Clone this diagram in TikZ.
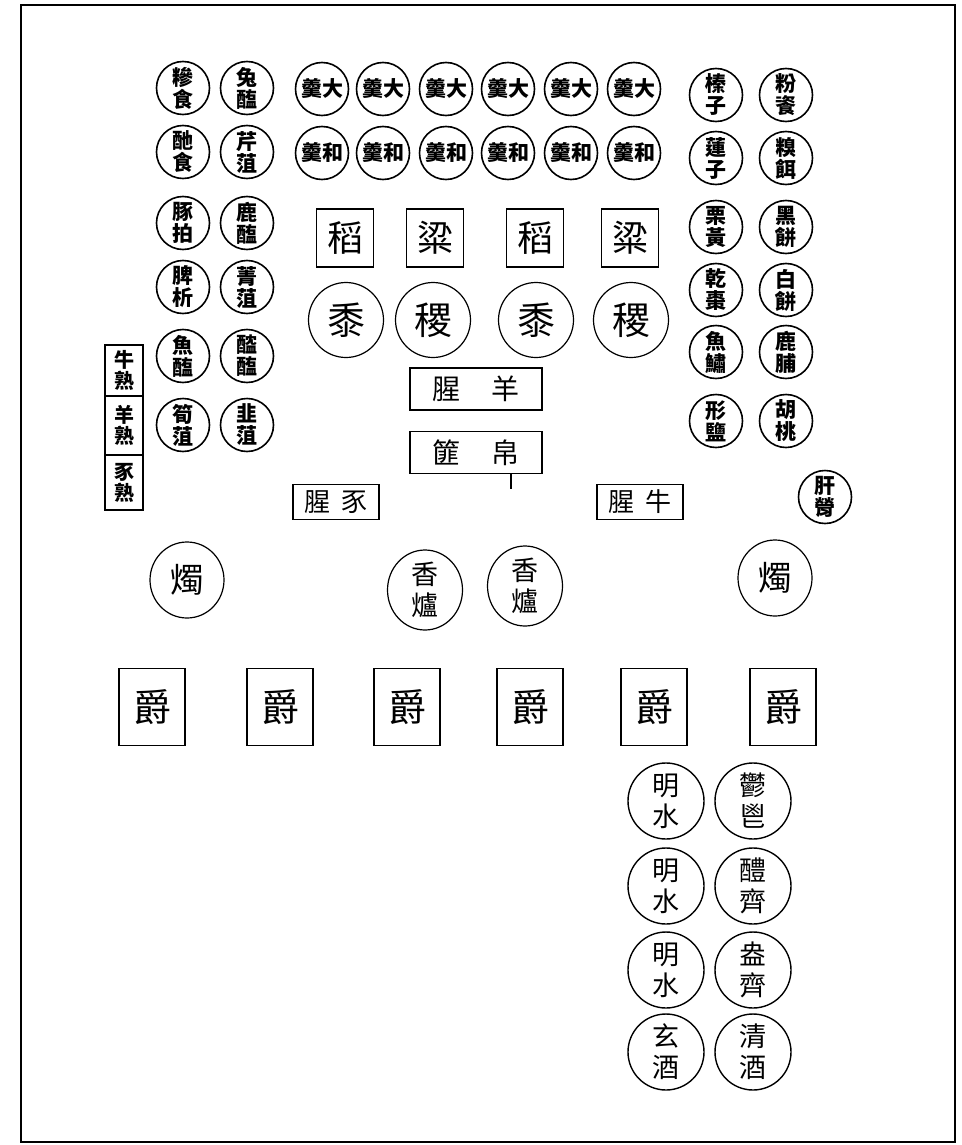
\documentclass[tikz,border=0pt]{standalone}
\usepackage{fontspec}
\newfontfamily\cjk{Noto Sans CJK TC}
\usetikzlibrary{shapes.geometric}
\begin{document}
\begin{tikzpicture}[x=1pt,y=-1pt,
  smallc/.style={circle,draw,line width=1.6pt,minimum size=53pt,inner sep=0pt,align=center,font=\cjk\bfseries\fontsize{21}{22}\selectfont},
  gengc/.style={circle,draw,line width=1.6pt,minimum size=53pt,inner sep=0pt,font=\cjk\bfseries\fontsize{21}{22}\selectfont},
  fubox/.style={rectangle,draw,line width=1.4pt,minimum width=57pt,minimum height=58pt,inner sep=0pt,font=\cjk\fontsize{36}{38}\selectfont},
  guic/.style={circle,draw,line width=1.2pt,minimum size=75pt,inner sep=0pt,font=\cjk\fontsize{38}{40}\selectfont},
  widebox/.style={rectangle,draw,line width=1.4pt,minimum width=132pt,minimum height=42pt,inner sep=0pt,font=\cjk\fontsize{28}{30}\selectfont},
  midbox/.style={rectangle,draw,line width=1.4pt,minimum width=86pt,minimum height=35pt,inner sep=0pt,font=\cjk\fontsize{26}{28}\selectfont},
  cellbox/.style={rectangle,draw,line width=1.4pt,minimum width=38pt,inner sep=0pt,align=center,font=\cjk\bfseries\fontsize{20}{21}\selectfont},
  zhuc/.style={ellipse,draw,line width=1.2pt,minimum width=74pt,minimum height=76pt,inner sep=0pt,font=\cjk\fontsize{34}{36}\selectfont},
  luc/.style={ellipse,draw,line width=1.2pt,minimum width=75pt,minimum height=80pt,inner sep=0pt,align=center,font=\cjk\fontsize{27}{31}\selectfont},
  juebox/.style={rectangle,draw,line width=1.4pt,minimum width=66pt,minimum height=77pt,inner sep=0pt,font=\cjk\fontsize{38}{40}\selectfont},
  bigc/.style={circle,draw,line width=1.4pt,minimum size=76pt,inner sep=0pt,align=center,font=\cjk\fontsize{27}{31}\selectfont}
]
\useasboundingbox (0,0) rectangle (961,1145);
\draw[line width=2pt] (21,5) rectangle (955,1142);

% left columns (dou)
\node[smallc] (a1) at (183,88) {糝\\食};
\node[smallc] (a2) at (183,152) {酏\\食};
\node[smallc] (a3) at (183,223) {豚\\拍};
\node[smallc] (a4) at (183,287) {脾\\析};
\node[smallc] (a5) at (183,356) {魚\\醢};
\node[smallc] (a6) at (183,425) {筍\\菹};
\node[smallc] (b1) at (247,88) {兔\\醢};
\node[smallc] (b2) at (247,152) {芹\\菹};
\node[smallc] (b3) at (247,223) {鹿\\醢};
\node[smallc] (b4) at (247,287) {菁\\菹};
\node[smallc] (b5) at (247,356) {醓\\醢};
\node[smallc] (b6) at (247,425) {韭\\菹};

% soup rows
\foreach \x [count=\i] in {322,383,446,508,571,634}{
  \node[gengc] (g\i) at (\x,89) {羹大};
  \node[gengc] (h\i) at (\x,153) {羹和};
}

% right columns (bian)
\node[smallc] (c1) at (716,95) {榛\\子};
\node[smallc] (c2) at (716,158) {蓮\\子};
\node[smallc] (c3) at (716,227) {栗\\黃};
\node[smallc] (c4) at (716,290) {乾\\棗};
\node[smallc] (c5) at (716,352) {魚\\鱐};
\node[smallc] (c6) at (716,421) {形\\鹽};
\node[smallc] (d1) at (786,95) {粉\\餈};
\node[smallc] (d2) at (786,158) {糗\\餌};
\node[smallc] (d3) at (786,227) {黑\\餅};
\node[smallc] (d4) at (786,290) {白\\餅};
\node[smallc] (d5) at (786,352) {鹿\\脯};
\node[smallc] (d6) at (786,421) {胡\\桃};
\node[smallc] (e1) at (825,497) {肝\\膋};

% fu and gui
\node[fubox] (f1) at (345,238) {稻};
\node[fubox] (f2) at (435,238) {粱};
\node[fubox] (f3) at (535,238) {稻};
\node[fubox] (f4) at (630,238) {粱};
\node[guic] (k1) at (346,320) {黍};
\node[guic] (k2) at (433,320) {稷};
\node[guic] (k3) at (536,320) {黍};
\node[guic] (k4) at (631,320) {稷};

% raw meat and silk
\node[widebox] (yang) at (476,389) {腥\hspace{32pt}羊};
\node[widebox] (bo) at (476,452.5) {篚\hspace{32pt}帛};
\coordinate (botick) at (511,489);
\draw[line width=1.2pt] (511,473) -- (botick);
\node[midbox] (shi) at (336,502) {腥\hspace{12pt}豕};
\node[midbox] (niu) at (640,502) {腥\hspace{12pt}牛};

% cooked meat column
\node[cellbox,minimum height=51pt] (s1) at (124,370.5) {牛\\熟};
\node[cellbox,minimum height=59pt] (s2) at (124,425.5) {羊\\熟};
\node[cellbox,minimum height=55pt] (s3) at (124,482.5) {豕\\熟};

% candles and censers
\node[zhuc] (z1) at (187,580) {燭};
\node[luc] (x1) at (425,590) {香\\爐};
\node[luc] (x2) at (525,586) {香\\爐};
\node[zhuc] (z2) at (775,578) {燭};

% jue
\foreach \x [count=\i] in {152,280,407,530,654,783}{
  \node[juebox] (j\i) at (\x,707) {爵};
}

% water and wine
\node[bigc] (m1) at (666,801) {明\\水};
\node[bigc] (m2) at (666,886) {明\\水};
\node[bigc] (m3) at (666,970) {明\\水};
\node[bigc] (m4) at (666,1052) {玄\\酒};
\node[bigc] (n1) at (753,801) {鬱\\鬯};
\node[bigc] (n2) at (753,886) {醴\\齊};
\node[bigc] (n3) at (753,970) {盎\\齊};
\node[bigc] (n4) at (753,1052) {清\\酒};
\end{tikzpicture}
\end{document}
